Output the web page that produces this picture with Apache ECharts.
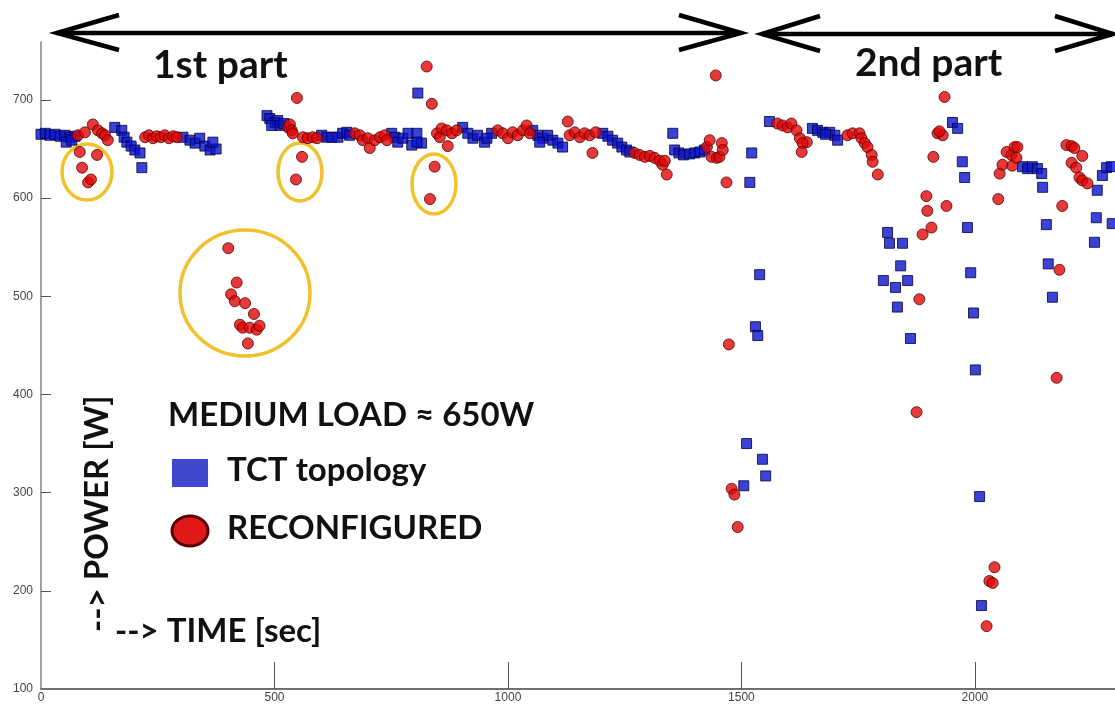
<!DOCTYPE html>
<html>
<head>
<meta charset="utf-8">
<title>Power over time: TCT topology vs reconfigured</title>
<script src="https://cdn.jsdelivr.net/npm/echarts@6/dist/echarts.min.js"></script>
<style>
  html, body { margin: 0; padding: 0; background: #ffffff; }
  #chart { width: 1115px; height: 709px; }
</style>
</head>
<body>
<div id="chart"></div>
<script>
// Tick values shown on the axes
const timeTicks = [0, 500, 1000, 1500, 2000];
const powerTicks = [100, 200, 300, 400, 500, 600, 700];

// [time (s), power (W)] for the fixed TCT topology
const tctPoints = [
  [0, 665], [9, 666], [19, 664], [30, 665], [41, 663], [51, 664], [62, 662], [73, 663], [54, 657], [66, 659],
  [158, 672], [173, 669], [178, 662], [184, 657], [193, 653], [201, 649], [212, 646], [216, 631],
  [304, 662], [319, 659], [330, 656], [340, 661], [351, 653], [362, 649], [375, 650], [368, 657],
  [484, 684], [490, 681], [501, 677], [507, 679], [494, 674], [512, 674], [520, 676],
  [601, 664], [612, 662], [623, 662], [636, 662], [646, 666], [655, 667], [661, 664],
  [751, 666], [758, 662], [764, 657], [775, 661], [786, 666], [794, 654], [805, 666], [807, 707], [815, 656], [805, 657],
  [903, 672], [914, 666], [925, 661], [935, 664], [950, 657], [965, 666], [955, 661],
  [1053, 669], [1064, 664], [1074, 661], [1085, 664], [1096, 659], [1107, 656], [1117, 652], [1068, 657],
  [1203, 666], [1214, 663], [1224, 659], [1235, 656], [1244, 652], [1254, 649], [1261, 647],
  [1353, 666], [1357, 649], [1366, 646], [1376, 644], [1389, 645], [1400, 646], [1411, 647], [1421, 649],
  [1522, 646], [1518, 616], [1539, 522], [1530, 469], [1535, 460], [1511, 350], [1505, 307], [1545, 334], [1552, 317],
  [1560, 678], [1652, 671], [1663, 669], [1674, 667], [1689, 667], [1700, 664], [1706, 659], [1680, 665],
  [1813, 565], [1817, 554], [1845, 554], [1841, 531], [1804, 516], [1830, 509], [1856, 516], [1834, 489], [1862, 457],
  [1952, 677], [1963, 671], [1973, 637], [1978, 621], [1984, 570], [1991, 524], [1997, 483], [2001, 425], [2010, 296], [2014, 185],
  [2102, 632], [2113, 630], [2123, 632], [2134, 630], [2143, 625], [2145, 611], [2153, 573], [2157, 533], [2166, 499],
  [2262, 608], [2260, 580], [2256, 555], [2273, 623], [2282, 631], [2292, 632], [2294, 574]
];

// [time (s), power (W)] after reconfiguration
const reconfiguredPoints = [
  [79, 664], [94, 667], [111, 675], [122, 669], [131, 666], [137, 664], [143, 659],
  [83, 647], [120, 644], [88, 631], [101, 616], [107, 619],
  [223, 662], [231, 664], [240, 661], [248, 663], [257, 662], [265, 664], [274, 661], [283, 663], [291, 662],
  [401, 549], [419, 514], [407, 502], [415, 495], [437, 493], [456, 482], [426, 471], [432, 468], [447, 468], [462, 466], [468, 470], [443, 452],
  [529, 672], [533, 675], [537, 669], [539, 666], [548, 702], [559, 642], [546, 619],
  [561, 662], [571, 661], [582, 662], [591, 661],
  [672, 666], [683, 664], [689, 659], [700, 661], [704, 651], [715, 659], [726, 662], [736, 664], [741, 659],
  [826, 734], [837, 696], [843, 632], [833, 599], [871, 653], [848, 666], [854, 662], [858, 671], [869, 669], [880, 666], [890, 669],
  [978, 669], [989, 666], [1000, 661], [1010, 667], [1021, 664], [1032, 669], [1040, 674], [1047, 666],
  [1128, 678], [1132, 664], [1143, 667], [1154, 662], [1164, 666], [1175, 664], [1188, 667], [1181, 646],
  [1271, 646], [1282, 644], [1293, 642], [1304, 643], [1314, 641], [1325, 638], [1331, 634], [1336, 638], [1340, 624],
  [1426, 652], [1432, 659], [1436, 642], [1447, 641], [1453, 642], [1458, 656], [1460, 649], [1445, 725], [1468, 616],
  [1473, 451], [1479, 304], [1485, 298], [1492, 265],
  [1577, 676], [1588, 674], [1599, 672], [1607, 676], [1618, 669], [1625, 661], [1640, 657], [1631, 656], [1629, 647],
  [1727, 664], [1738, 666], [1753, 666], [1757, 661], [1764, 656], [1770, 652], [1779, 644], [1781, 637], [1792, 624],
  [1881, 497], [1875, 382], [1888, 563], [1907, 570], [1896, 602], [1898, 587], [1939, 592], [1911, 642],
  [1920, 666], [1931, 664], [1924, 668], [1935, 703],
  [2042, 224], [2031, 210], [2038, 208], [2025, 164],
  [2050, 599], [2053, 625], [2059, 634], [2068, 647], [2078, 644], [2085, 652], [2091, 652], [2080, 633], [2089, 641],
  [2187, 592], [2181, 527], [2175, 417],
  [2196, 654], [2207, 653], [2213, 651], [2230, 643], [2207, 636], [2217, 631], [2224, 621], [2230, 618], [2241, 615]
];

const FACE = 'Lato, "Open Sans", sans-serif';
const CAPTION_FONT = 'bold 33px ' + FACE;
const TITLE_FONT = 'bold 39px ' + FACE;
const ELLIPSE_STROKE = '#f0c12c';

function doubleArrow(x1, x2, y, head) {
  const lw = 4.5;
  return [
    { type: 'line', shape: { x1: x1, y1: y, x2: x2, y2: y }, style: { stroke: '#000', lineWidth: lw } },
    { type: 'polyline', shape: { points: [[x1 + head, y - 18], [x1, y], [x1 + head, y + 17]] },
      style: { stroke: '#000', lineWidth: lw, fill: null } },
    { type: 'polyline', shape: { points: [[x2 - head, y - 18], [x2, y], [x2 - head, y + 17]] },
      style: { stroke: '#000', lineWidth: lw, fill: null } }
  ];
}

function ring(cx, cy, rx, ry) {
  return { type: 'ellipse', shape: { cx: cx, cy: cy, rx: rx, ry: ry },
    style: { stroke: ELLIPSE_STROKE, lineWidth: 3.5, fill: null } };
}

const chart = echarts.init(document.getElementById('chart'), null, { renderer: 'canvas' });

chart.setOption({
  animation: false,
  backgroundColor: '#ffffff',
  grid: { left: 41, right: 0, top: 42, bottom: 20 },
  xAxis: {
    type: 'value', min: 0, max: 2300,
    splitLine: { show: false },
    axisLine: { lineStyle: { color: '#6f6f6f', width: 2 } },
    axisTick: { inside: true, length: 27, customValues: timeTicks.slice(1), lineStyle: { color: '#555' } },
    axisLabel: {
      customValues: timeTicks, margin: 3, color: '#444', fontSize: 12,
      fontFamily: '"Liberation Sans", Arial, sans-serif',
      formatter: function (v) { return String(v); }
    }
  },
  yAxis: {
    type: 'value', min: 100, max: 759,
    splitLine: { show: false },
    axisLine: { lineStyle: { color: '#808080', width: 1.5 } },
    axisTick: { inside: true, length: 10, customValues: powerTicks.slice(1), lineStyle: { color: '#555' } },
    axisLabel: {
      customValues: powerTicks, margin: 8, color: '#444', fontSize: 12,
      fontFamily: '"Liberation Sans", Arial, sans-serif',
      formatter: function (v) { return String(v); }
    }
  },
  series: [
    {
      name: 'TCT topology', type: 'scatter', data: tctPoints,
      symbol: 'rect', symbolSize: 10,
      itemStyle: { color: '#0a14cc', borderColor: '#00003c', borderWidth: 1 }
    },
    {
      name: 'RECONFIGURED', type: 'scatter', data: reconfiguredPoints,
      symbol: 'circle', symbolSize: 11,
      itemStyle: { color: '#e00808', borderColor: '#5a0000', borderWidth: 1 }
    }
  ],
  graphic: [
    // section arrows
    ...doubleArrow(57, 741, 33, 62),
    ...doubleArrow(762, 1113, 34, 58),
    { type: 'text', left: 153, top: 46, style: { text: '1st part', font: TITLE_FONT, fill: '#111' } },
    { type: 'text', left: 855, top: 44, style: { text: '2nd part', font: TITLE_FONT, fill: '#111' } },
    // highlighted outliers
    ring(87, 172, 25, 28),
    ring(300, 172, 22, 29),
    ring(434, 184, 22, 30),
    ring(245, 293, 65, 63),
    // legend block
    { type: 'text', left: 168, top: 399, style: { text: 'MEDIUM LOAD \u2248 650W', font: CAPTION_FONT, fill: '#111' } },
    { type: 'rect', shape: { x: 172, y: 459, width: 36, height: 28 }, style: { fill: '#4148cc' } },
    { type: 'text', left: 227, top: 454, style: { text: 'TCT topology', font: CAPTION_FONT, fill: '#111' } },
    { type: 'ellipse', shape: { cx: 190, cy: 531, rx: 18, ry: 15 }, style: { fill: '#e01818', stroke: '#5a0000', lineWidth: 3 } },
    { type: 'text', left: 227, top: 512, style: { text: 'RECONFIGURED', font: CAPTION_FONT, fill: '#111' } },
    // axis captions
    { type: 'text', x: 97, y: 632, rotation: Math.PI / 2,
      style: { text: '--> POWER [W]', font: CAPTION_FONT, fill: '#111', align: 'left', verticalAlign: 'middle' } },
    { type: 'text', left: 115, top: 615, style: { text: '--> TIME [sec]', font: CAPTION_FONT, fill: '#111' } }
  ]
});
</script>
</body>
</html>
